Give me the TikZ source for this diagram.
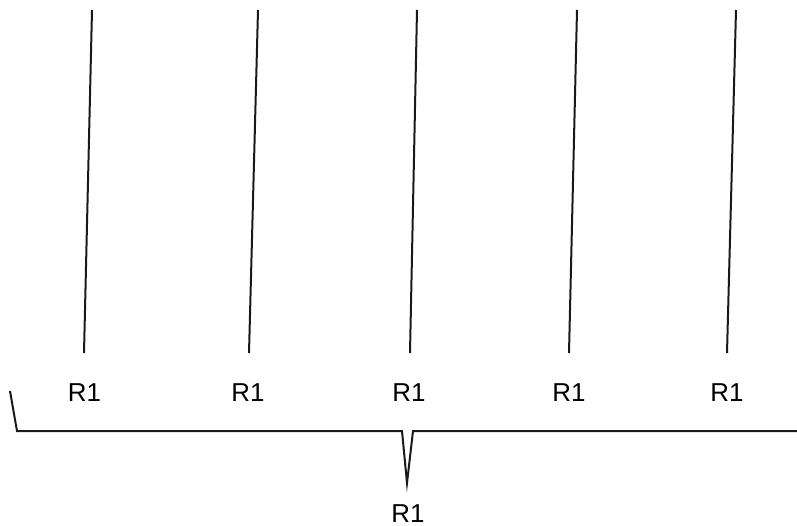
\documentclass[tikz,border=0pt]{standalone}
\usepackage{fontspec}
\setmainfont{Liberation Sans}
\begin{document}
\begin{tikzpicture}[x=1bp,y=-1bp,
  wire/.style={line width=2bp,black!90},
  lbl/.style={font=\fontsize{26}{28}\selectfont,inner sep=0pt,anchor=center}]
\useasboundingbox (0,0) rectangle (797,526);
\foreach \i/\xt/\xb/\xl in {1/92/84/84.5,2/258/249/248,3/417/410/409,4/577/569/569,5/736/727/727}{
  \coordinate (t\i) at (\xt,10);
  \coordinate (b\i) at (\xb,353);
  \draw[wire] (t\i) -- (b\i);
  \node[lbl] (r\i) at (\xl,393) {R1};
}
\coordinate (bl) at (10,391);
\coordinate (bc) at (17,431);
\coordinate (pl) at (402,431);
\coordinate (tip) at (407,483);
\coordinate (pr) at (413,431);
\coordinate (br) at (797,431);
\draw[wire,line join=miter] (bl) -- (bc) -- (pl) -- (tip) -- (pr) -- (br);
\node[lbl] (r0) at (408,514) {R1};
\end{tikzpicture}
\end{document}
